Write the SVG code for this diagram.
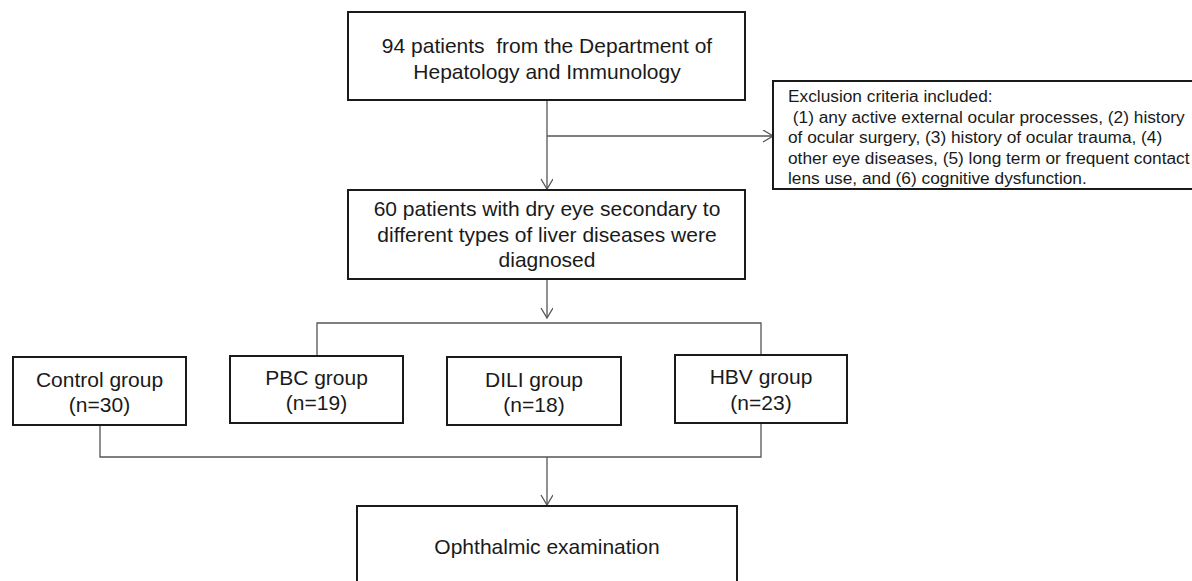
<svg xmlns="http://www.w3.org/2000/svg" width="1192" height="581" viewBox="0 0 1192 581">
<style>
.box{fill:#fff;stroke:#1a1a1a;stroke-width:2}
.t{font-family:"Liberation Sans",Arial,sans-serif;font-size:21px;fill:#1a1a1a;text-anchor:middle}
.s{font-family:"Liberation Sans",Arial,sans-serif;font-size:17.3px;fill:#1a1a1a}
.c{fill:none;stroke:#555;stroke-width:1.3}
</style>
<defs>
<marker id="ah" markerWidth="14" markerHeight="14" refX="11" refY="6" orient="auto" markerUnits="userSpaceOnUse">
<path d="M1,0 L11,6 L1,12" fill="none" stroke="#555" stroke-width="1.3"/>
</marker>
</defs>
<rect width="1192" height="581" fill="#fff"/>
<g id="connectors">
<line class="c" x1="547" y1="100" x2="547" y2="189" marker-end="url(#ah)"/>
<line class="c" x1="547" y1="136" x2="773" y2="136" marker-end="url(#ah)"/>
<line class="c" x1="547" y1="279" x2="547" y2="318" marker-end="url(#ah)"/>
<polyline class="c" points="317,356 317,323 761,323 761,355"/>
<polyline class="c" points="100,425 100,457 761,457 761,423"/>
<line class="c" x1="547" y1="457" x2="547" y2="505" marker-end="url(#ah)"/>
</g>
<g id="n1">
<rect class="box" x="348" y="12" width="397" height="88"/>
<text class="t" x="547" y="53" xml:space="preserve">94 patients  from the Department of</text>
<text class="t" x="547" y="79">Hepatology and Immunology</text>
</g>
<g id="n2">
<rect class="box" x="773" y="81" width="430" height="108"/>
<text class="s" x="788" y="102">Exclusion criteria included:</text>
<text class="s" x="788" y="123" xml:space="preserve"> (1) any active external ocular processes, (2) history</text>
<text class="s" x="788" y="143">of ocular surgery, (3) history of ocular trauma, (4)</text>
<text class="s" x="788" y="164">other eye diseases, (5) long term or frequent contact</text>
<text class="s" x="788" y="184">lens use, and (6) cognitive dysfunction.</text>
</g>
<g id="n3">
<rect class="box" x="348" y="190" width="397" height="89"/>
<text class="t" x="547" y="216">60 patients with dry eye secondary to</text>
<text class="t" x="547" y="242">different types of liver diseases were</text>
<text class="t" x="547" y="267">diagnosed</text>
</g>
<g id="n4">
<rect class="box" x="13" y="357" width="173" height="68"/>
<text class="t" x="99.5" y="387">Control group</text>
<text class="t" x="99.5" y="412">(n=30)</text>
</g>
<g id="n5">
<rect class="box" x="230" y="356" width="173" height="67"/>
<text class="t" x="316.5" y="385">PBC group</text>
<text class="t" x="316.5" y="410">(n=19)</text>
</g>
<g id="n6">
<rect class="box" x="447" y="357" width="174" height="68"/>
<text class="t" x="534" y="387">DILI group</text>
<text class="t" x="534" y="412">(n=18)</text>
</g>
<g id="n7">
<rect class="box" x="675" y="355" width="172" height="68"/>
<text class="t" x="761" y="384">HBV group</text>
<text class="t" x="761" y="410">(n=23)</text>
</g>
<g id="n8">
<rect class="box" x="357" y="506" width="380" height="90"/>
<text class="t" x="547" y="554">Ophthalmic examination</text>
</g>
</svg>
